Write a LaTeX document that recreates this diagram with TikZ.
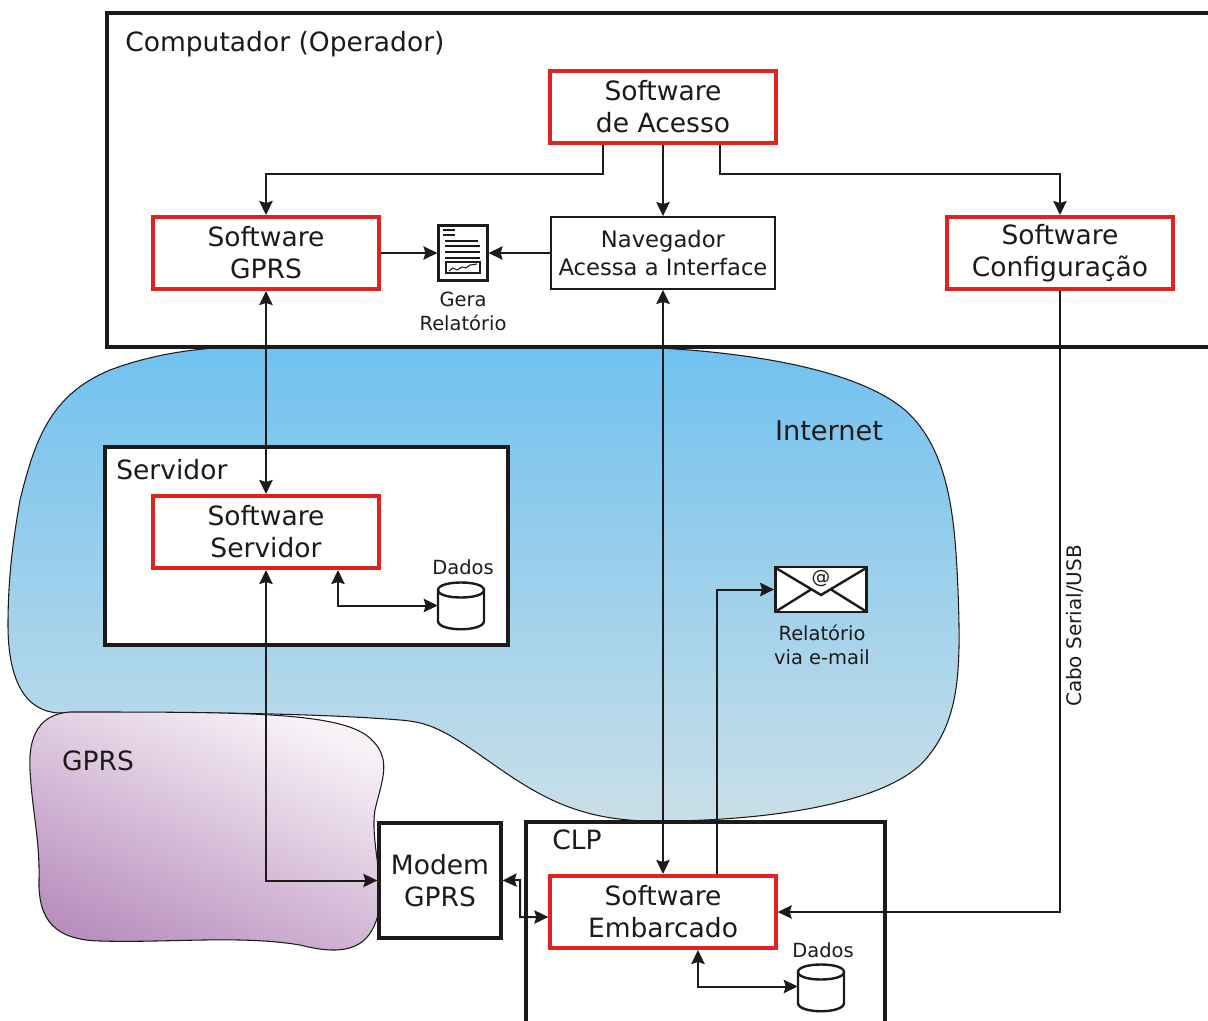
\documentclass[tikz,border=0pt]{standalone}
\usepackage{fontspec}
\setmainfont{DejaVu Sans}
\usetikzlibrary{arrows.meta,calc}
\definecolor{ink}{HTML}{1E1A1A}
\definecolor{redb}{HTML}{E0231F}
\definecolor{nettop}{HTML}{70C1EF}
\definecolor{netbot}{HTML}{CADFE8}
\definecolor{gprstop}{HTML}{F8F2F7}
\definecolor{gprsbot}{HTML}{B98FBE}
\tikzset{
 txt/.style={text=ink,font=\fontsize{19.9}{24}\selectfont,align=center,inner sep=0pt},
 small/.style={text=ink,font=\fontsize{14.6}{18}\selectfont,align=center,inner sep=0pt},
 mid/.style={text=ink,font=\fontsize{17}{21}\selectfont,align=center,inner sep=0pt},
 redbox/.style={draw=redb,line width=3pt,fill=white,minimum width=169pt,minimum height=54pt,inner sep=0pt,txt},
 blackbox/.style={draw=ink,line width=3pt,fill=white,inner sep=0pt},
 thinbox/.style={draw=ink,line width=1.4pt,fill=white,inner sep=0pt},
 conn/.style={draw=ink,line width=1.5pt,-{Stealth[length=10.5pt,width=10pt,inset=1.5pt]}},
 conn2/.style={draw=ink,line width=1.5pt,{Stealth[length=10.5pt,width=10pt,inset=1.5pt]}-{Stealth[length=10.5pt,width=10pt,inset=1.5pt]}},
 frame/.style={draw=ink,line width=3pt},
 icon/.style={draw=ink,line width=1.8pt},
 blob/.style={draw=ink,line width=.8pt},
}
\newcommand{\cylinder}[2]{% centre x, top y
  \path[icon,fill=white] ({#1-23},{#2+7}) .. controls ({#1-23},{#2-3}) and ({#1+23},{#2-3}) .. ({#1+23},{#2+7})
    -- ({#1+23},{#2+38}) .. controls ({#1+23},{#2+49}) and ({#1-23},{#2+49}) .. ({#1-23},{#2+38}) -- cycle;
  \draw[icon] ({#1-23},{#2+7}) .. controls ({#1-23},{#2+17}) and ({#1+23},{#2+17}) .. ({#1+23},{#2+7});
}
\begin{document}
\begin{tikzpicture}[x=0.75pt,y=-0.75pt]
\useasboundingbox (0,0) rectangle (1208,1021);
% clouds
\path[blob,top color=nettop,bottom color=netbot] (230,347)
  .. controls (350,344) and (560,345) .. (640,347)
  .. controls (760,352) and (860,372) .. (905,410)
  .. controls (950,450) and (955,520) .. (958,590)
  .. controls (961,670) and (960,720) .. (925,760)
  .. controls (885,805) and (760,822) .. (650,821)
  .. controls (570,820) and (530,790) .. (480,755)
  .. controls (440,727) and (425,722) .. (400,720)
  .. controls (300,712) and (150,712) .. (60,713)
  .. controls (25,712) and (8,680) .. (8,625)
  .. controls (8,570) and (15,530) .. (20,500)
  .. controls (35,440) and (50,395) .. (110,370)
  .. controls (150,355) and (190,349) .. (230,347) -- cycle;
\path[blob,top color=gprstop,bottom color=gprsbot,shading angle=-25] (70,712)
  .. controls (40,714) and (28,735) .. (30,770)
  .. controls (32,810) and (40,840) .. (39,880)
  .. controls (38,920) and (55,940) .. (100,941)
  .. controls (170,943) and (240,935) .. (300,945)
  .. controls (350,958) and (370,945) .. (378,915)
  .. controls (385,880) and (370,840) .. (375,810)
  .. controls (382,780) and (392,760) .. (372,740)
  .. controls (345,712) and (250,712) .. (70,712) -- cycle;
% frames
\draw[frame,fill=white] (1209,13) -- (107,13) -- (107,347) -- (1209,347);
\node[blackbox,minimum width=302pt,minimum height=148.5pt] (servidorbox) at (306.5,546) {};
\draw[frame,fill=white] (526,1023) -- (526,822) -- (885,822) -- (885,1023);
% labels
\node[txt,anchor=west] (computador) at (125,44) {Computador (Operador)};
\node[txt,anchor=west] (servidorlbl) at (116,470) {Servidor};
\node[txt,anchor=west] (clplbl) at (552,840) {CLP};
\node[txt,font=\fontsize{20.4}{24}\selectfont] (internet) at (829,431) {Internet};
\node[txt] (gprs) at (98,761) {GPRS};
% boxes
\node[redbox] (acesso) at (663,107) {Software\\de Acesso};
\node[redbox] (sgprs) at (266,253) {Software\\GPRS};
\node[thinbox,minimum width=168.5pt,minimum height=54pt,mid] (nav) at (663,253) {Navegador\\Acessa a Interface};
\node[redbox] (config) at (1060,253) {Software\\Configuração};
\node[redbox] (sservidor) at (266,532) {Software\\Servidor};
\node[blackbox,minimum width=91pt,minimum height=86pt,txt] (modem) at (440,880.5) {Modem\\GPRS};
\node[redbox] (sembarcado) at (663,912) {Software\\Embarcado};
% report icon
\node[icon,fill=white,minimum width=36.5pt,minimum height=41.5pt,inner sep=0pt] (report) at (463,253) {};
\draw[ink,line width=1pt] (443,230) -- (455,230) (443,235) -- (455,235);
\draw[ink,line width=1.2pt] (445,241) -- (478,241) (445,246) -- (480,246) (445,252) -- (480,252) (445,258) -- (480,258);
\draw[ink,line width=1.2pt] (446,262) rectangle (480,273);
\draw[ink,line width=.8pt] (449,271) -- (453,268) -- (457,270) -- (462,267) -- (466,268) -- (470,265) -- (477,264);
\node[small] (gera) at (463,311.5) {Gera\\Relatório};
% mail icon
\node[icon,fill=white,minimum width=68.5pt,minimum height=33.5pt,inner sep=0pt] (mail) at (821,589.5) {};
\draw[icon] (775,567.5) -- (821,595) -- (867,567.5);
\draw[icon] (775,612) -- (811,589.5) (867,612) -- (831,589.5);
\node[font=\fontsize{14}{14}\selectfont,text=ink,inner sep=0pt] (at) at (821,579) {@};
\node[small] (maillbl) at (822,645) {Relatório\\via e-mail};
% databases
\cylinder{461}{583}
\node[inner sep=0pt,minimum width=34.5pt,minimum height=33pt] (dados1) at (461,605.5) {};
\node[small] (dados1lbl) at (463,567) {Dados};
\cylinder{821}{965}
\node[inner sep=0pt,minimum width=34.5pt,minimum height=33pt] (dados2) at (821,986.5) {};
\node[small] (dados2lbl) at (823,950) {Dados};
\node[small,font=\fontsize{15}{18}\selectfont,rotate=90] (cabo) at (1075,626) {Cabo Serial/USB};
% connector routing points
\coordinate (a1) at ($(acesso.south)+(-60,0)$);
\coordinate (a2) at ($(acesso.south)+(57,0)$);
\coordinate (srv1) at ($(sservidor.south)+(72,0)$);
\coordinate (emb1) at ($(sembarcado.south)+(35,0)$);
\coordinate (emb2) at ($(sembarcado.north)+(54,0)$);
\coordinate (m1) at (520,880);
\coordinate (m2) at (520,917);
% connectors
\draw[conn] (a1) -- (a1 |- 0,174) -| (sgprs.north);
\draw[conn] (a2) -- (a2 |- 0,174) -| (config.north);
\draw[conn] (acesso) -- (nav);
\draw[conn] (sgprs.east) -- (report.west);
\draw[conn] (nav.west) -- (report.east);
\draw[conn2] (sgprs.south) -- (sservidor.north);
\draw[conn2] (nav.south) -- (sembarcado.north);
\draw[conn2] (sservidor.south) |- (modem.west);
\draw[conn2] (srv1) |- (dados1.west);
\draw[conn2] (modem.east) -- (m1) -- (m2) -- (sembarcado.west |- m2);
\draw[conn] (emb2) |- (mail.west);
\draw[conn] (config.south) |- (sembarcado.east);
\draw[conn2] (emb1) |- (dados2.west);
\end{tikzpicture}
\end{document}
